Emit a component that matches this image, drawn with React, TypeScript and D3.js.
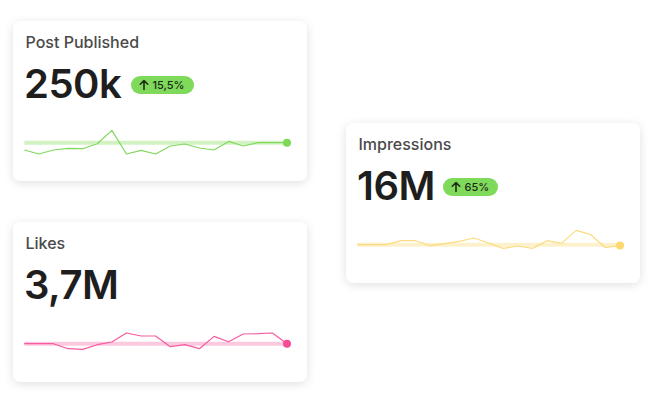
import React from "react";
import * as d3 from "d3";

const titles = ["Post Published", "Impressions", "Likes"];
const bigValues = ["250k", "16M", "3,7M"];
const badges = ["15,5%", "65%", null];
const postSeries = [-7.3, -11.3, -7.3, -5.7, -6, -1, 12.3, -11.3, -7.7, -11.3, -3.3, -1.3, -5.3, -7.3, 1.3, -3.3, 0, 0, 0];
const impressionSeries = [0, 0, 0, 4, 4, -1, 1, 3.3, 6.7, 1.7, -3.7, -1.3, -3.7, 4, 1.3, 14.3, 10, -3, -0.7];
const likeSeries = [0, 0, 0, -5, -5.7, -1, 1.7, 10.7, 7.7, 7.7, -3, -1, -5, 7.3, 2, 9.7, 10, 10.7, 0];

const W = 667;
const H = 411;
const CARD_W = 294;
const CARD_H = 160;

type CardSpec = {
  x: number;
  y: number;
  title: string;
  value: string;
  badge: string | null;
  badgeX: number;
  badgeW: number;
  series: number[];
  line: string;
  band: string;
  dot: string;
};

const cards: CardSpec[] = [
  { x: 13, y: 21, title: titles[0], value: bigValues[0], badge: badges[0], badgeX: 118, badgeW: 63, series: postSeries, line: "#80d95d", band: "#d3f2c4", dot: "#7fd85a" },
  { x: 346, y: 123, title: titles[1], value: bigValues[1], badge: badges[1], badgeX: 97, badgeW: 55, series: impressionSeries, line: "#fcdb80", band: "#fdf1cc", dot: "#fdd871" },
  { x: 13, y: 222, title: titles[2], value: bigValues[2], badge: badges[2], badgeX: 0, badgeW: 0, series: likeSeries, line: "#f85a9f", band: "#fcc9df", dot: "#f74b95" },
];

const FONT = "Inter, 'Noto Sans', sans-serif";

function Card({ c }: { c: CardSpec }) {
  const x0 = 11.3;
  const x1 = 274;
  const base = 121.7;
  const xs = d3.scaleLinear().domain([0, c.series.length - 1]).range([x0, x1]);
  const ys = d3.scaleLinear().domain([-15, 15]).range([base + 15, base - 15]);
  const line = d3
    .line<number>()
    .x((_, i) => xs(i))
    .y((d) => ys(d));
  const last = c.series.length - 1;
  return (
    <g transform={`translate(${c.x},${c.y})`}>
      <rect width={CARD_W} height={CARD_H} rx={8} fill="#fff" filter="url(#shadow)" />
      <text x={12.5} y={26.7} fontFamily={FONT} fontSize={16} fontWeight={500} fill="#4a4a4a">
        {c.title}
      </text>
      <text x={11} y={77.3} fontFamily={FONT} fontSize={40} fontWeight={600} fill="#1e1e1e" letterSpacing={-0.5}>
        {c.value}
      </text>
      {c.badge && (
        <g transform={`translate(${c.badgeX},55)`}>
          <rect width={c.badgeW} height={18} rx={9} fill="#7fd95b" />
          <path d="M13,13.5 V4.5 M9.3,8.2 L13,4.5 L16.7,8.2" stroke="#1e2a18" strokeWidth={1.6} fill="none" strokeLinecap="round" strokeLinejoin="round" />
          <text x={21.5} y={13} fontFamily={FONT} fontSize={11} fontWeight={500} fill="#1e2a18">
            {c.badge}
          </text>
        </g>
      )}
      <line x1={xs(0)} x2={xs(last)} y1={ys(0)} y2={ys(0)} stroke={c.band} strokeWidth={4} />
      <path d={line(c.series) || ""} fill="none" stroke={c.line} strokeWidth={1.2} strokeLinejoin="round" />
      <circle cx={xs(last)} cy={ys(c.series[last])} r={4} fill={c.dot} />
    </g>
  );
}

export default function App() {
  return (
    <svg width={W} height={H} style={{ position: "absolute", left: 0, top: 0, background: "#fff" }}>
      <defs>
        <filter id="shadow" x="-10%" y="-15%" width="120%" height="135%">
          <feDropShadow dx={0} dy={2} stdDeviation={5} floodColor="#000" floodOpacity={0.12} />
        </filter>
      </defs>
      {cards.map((c, i) => (
        <Card key={i} c={c} />
      ))}
    </svg>
  );
}
